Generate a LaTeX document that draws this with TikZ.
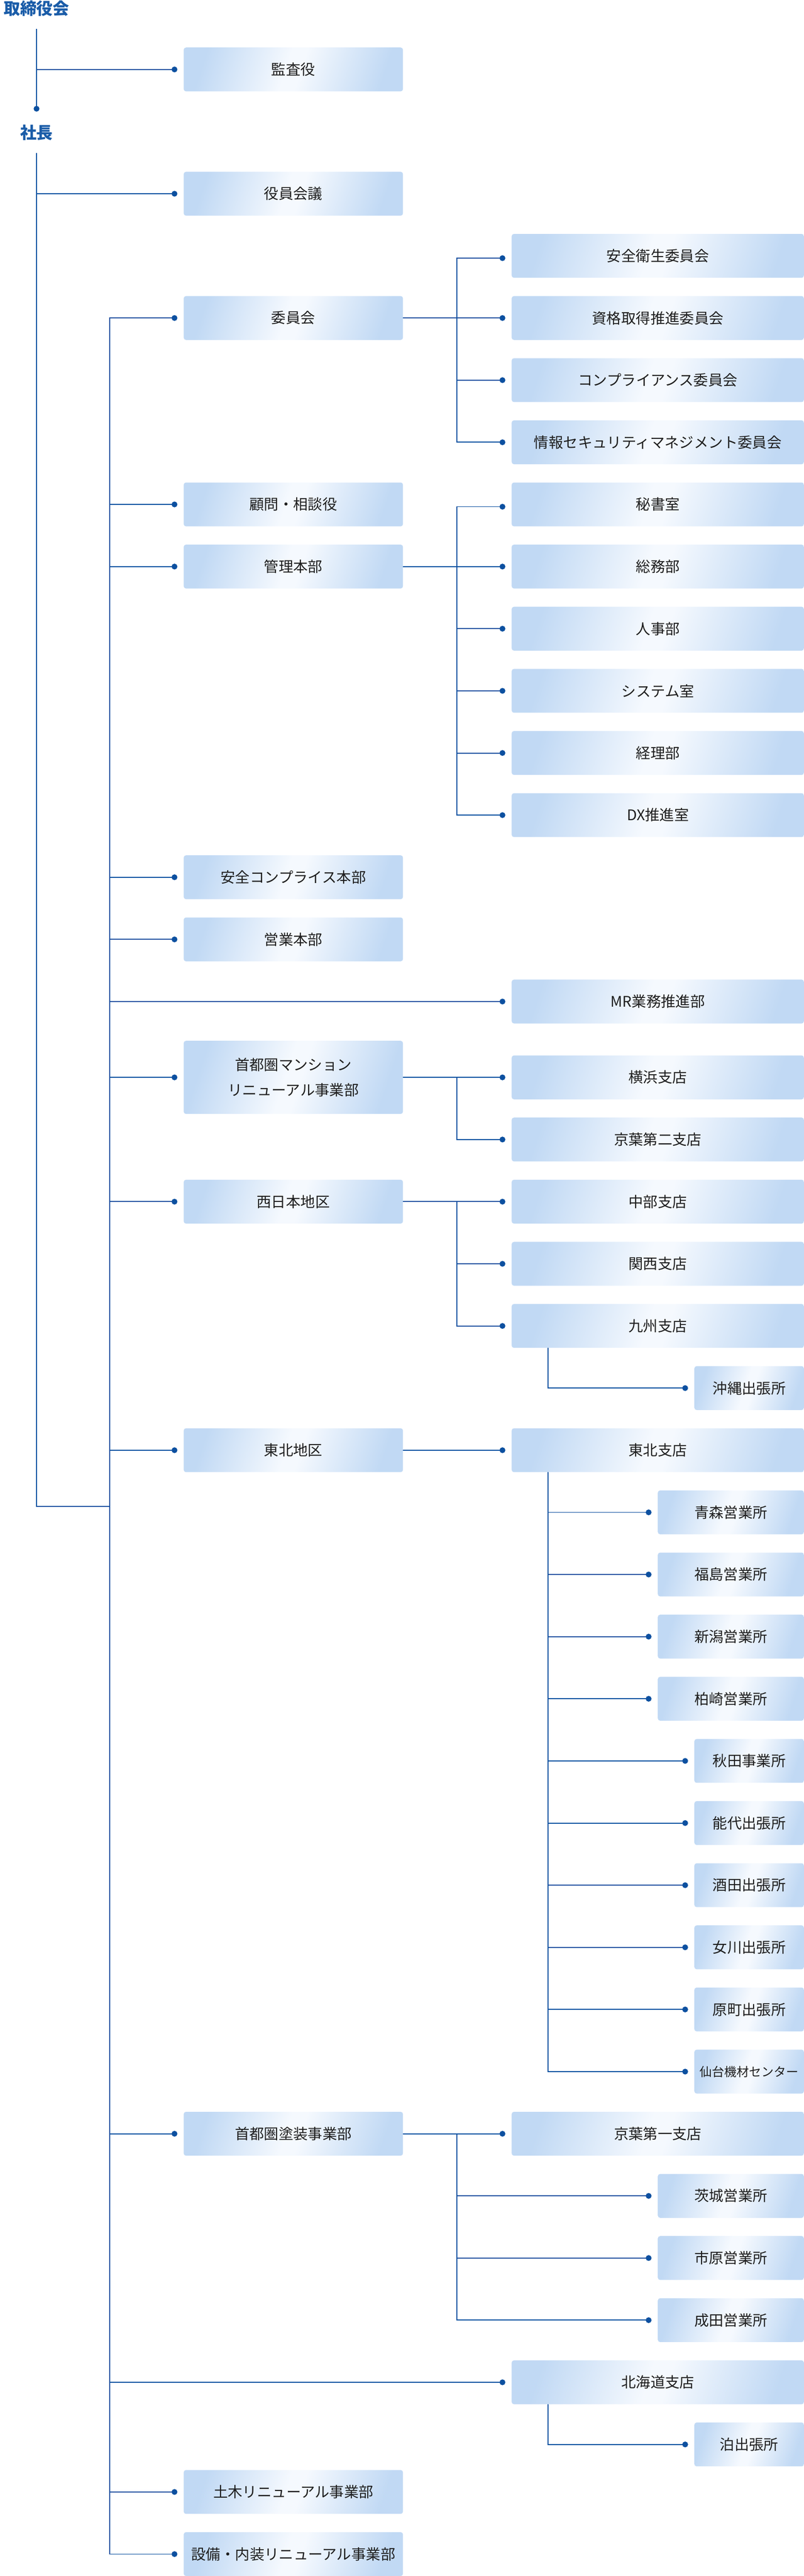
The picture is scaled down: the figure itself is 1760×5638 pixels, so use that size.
\documentclass[tikz,border=0pt]{standalone}
\usepackage{fontspec}
\setmainfont{Noto Sans CJK JP}
\usetikzlibrary{arrows.meta}
\definecolor{linec}{HTML}{0C50A0}
\definecolor{titlec}{HTML}{1A5CA8}
\definecolor{gb}{HTML}{C1D9F4}
\definecolor{gw}{HTML}{F5F9FE}
\definecolor{txt}{HTML}{1E1E1E}
\pgfdeclarelayer{bg}
\pgfsetlayers{bg,main}
\pgfdeclarehorizontalshading{boxgrad}{100bp}{color(0bp)=(gb); color(25bp)=(gb); color(48bp)=(gw); color(52bp)=(gw); color(75bp)=(gb); color(100bp)=(gb)}
\tikzset{
  title/.style={font=\fontsize{36pt}{40pt}\selectfont\bfseries, text=titlec, inner sep=0pt},
  box/.style={rounded corners=5pt, minimum height=96pt, inner sep=0pt, anchor=west,
    font=\fontsize{32pt}{40pt}\selectfont, text=txt, shading=boxgrad, shading angle=-18},
  lbox/.style={box, minimum width=480pt},
  rbox/.style={box, minimum width=640pt},
  sbox/.style={box, minimum width=320pt},
  tbox/.style={box, minimum width=240pt},
  line/.style={draw=linec, line width=2.2pt, line cap=rect, line join=miter},
  conn/.style={line, -{Circle[length=12.6pt,width=12.6pt]}},
}
\newcommand{\dotat}[1]{([xshift=-13.7pt]#1.west)}
\begin{document}
\begin{tikzpicture}[x=1pt,y=-1pt]
\useasboundingbox (0,0) rectangle (1760,5638);
% titles
\node[title] (torishimari) at (80,18) {取締役会};
\node[title] (shacho) at (80,290) {社長};
% boxes
\node[lbox] (kansa) at (402,152) {監査役};
\node[lbox] (yakuinkaigi) at (402,424) {役員会議};
\node[rbox] (anzen) at (1120,560) {安全衛生委員会};
\node[lbox] (iinkai) at (402,696) {委員会};
\node[rbox] (shikaku) at (1120,696) {資格取得推進委員会};
\node[rbox] (compl) at (1120,832) {コンプライアンス委員会};
\node[rbox] (joho) at (1120,968) {情報セキュリティマネジメント委員会};
\node[lbox] (komon) at (402,1104) {顧問・相談役};
\node[rbox] (hisho) at (1120,1104) {秘書室};
\node[lbox] (kanri) at (402,1240) {管理本部};
\node[rbox] (somu) at (1120,1240) {総務部};
\node[rbox] (jinji) at (1120,1376) {人事部};
\node[rbox] (system) at (1120,1512) {システム室};
\node[rbox] (keiri) at (1120,1648) {経理部};
\node[rbox] (dx) at (1120,1784) {DX推進室};
\node[lbox] (anzencomp) at (402,1920) {安全コンプライス本部};
\node[lbox] (eigyo) at (402,2056) {営業本部};
\node[rbox] (mr) at (1120,2192) {MR業務推進部};
\node[lbox, minimum height=160pt, align=center, font=\fontsize{32pt}{55pt}\selectfont] (mansion) at (402,2358) {首都圏マンション\\リニューアル事業部};
\node[rbox] (yokohama) at (1120,2358) {横浜支店};
\node[rbox] (keiyo2) at (1120,2494) {京葉第二支店};
\node[lbox] (nishinihon) at (402,2630) {西日本地区};
\node[rbox] (chubu) at (1120,2630) {中部支店};
\node[rbox] (kansai) at (1120,2766) {関西支店};
\node[rbox] (kyushu) at (1120,2902) {九州支店};
\node[tbox] (okinawa) at (1520,3038) {沖縄出張所};
\node[lbox] (tohokuchiku) at (402,3174) {東北地区};
\node[rbox] (tohokushiten) at (1120,3174) {東北支店};
\node[sbox] (aomori) at (1440,3310) {青森営業所};
\node[sbox] (fukushima) at (1440,3446) {福島営業所};
\node[sbox] (niigata) at (1440,3582) {新潟営業所};
\node[sbox] (kashiwazaki) at (1440,3718) {柏崎営業所};
\node[tbox] (akita) at (1520,3854) {秋田事業所};
\node[tbox] (noshiro) at (1520,3990) {能代出張所};
\node[tbox] (sakata) at (1520,4126) {酒田出張所};
\node[tbox] (onagawa) at (1520,4262) {女川出張所};
\node[tbox] (haramachi) at (1520,4398) {原町出張所};
\node[tbox, font=\fontsize{27pt}{32pt}\selectfont] (sendai) at (1520,4534) {仙台機材センター};
\node[lbox] (tosou) at (402,4670) {首都圏塗装事業部};
\node[rbox] (keiyo1) at (1120,4670) {京葉第一支店};
\node[sbox] (ibaraki) at (1440,4806) {茨城営業所};
\node[sbox] (ichihara) at (1440,4942) {市原営業所};
\node[sbox] (narita) at (1440,5078) {成田営業所};
\node[rbox] (hokkaido) at (1120,5214) {北海道支店};
\node[tbox] (tomari) at (1520,5350) {泊出張所};
\node[lbox] (doboku) at (402,5454) {土木リニューアル事業部};
\node[lbox] (setsubi) at (402,5590) {設備・内装リニューアル事業部};
% coordinates of trunks
\coordinate (A1) at (80,64);
\coordinate (A2) at (80,244.3);
\coordinate (B1) at (80,336);
\coordinate (B2) at (80,3297);
\coordinate (C0) at (240,3297);
\coordinate (D) at (1000,0);
\coordinate (E) at (1200,0);
\coordinate (anzenc) at ([yshift=-5pt]anzen.west);
\coordinate (hishoc) at ([yshift=-5pt]hisho.west);
\begin{pgfonlayer}{bg}
% board
\draw[conn] (A1) -- (A2);
\draw[conn] (kansa.west -| A1) -- \dotat{kansa};
% president trunk
\draw[line] (B1) -- (B2) -- (C0);
\draw[conn] (yakuinkaigi.west -| B1) -- \dotat{yakuinkaigi};
\draw[line] (iinkai.west -| C0) -- (setsubi.west -| C0);
\foreach \n in {iinkai,komon,kanri,anzencomp,eigyo,mr,mansion,nishinihon,tohokuchiku,tosou,hokkaido,doboku,setsubi}
  \draw[conn] (\n.west -| C0) -- \dotat{\n};
% committees
\draw[conn] (iinkai.east) -- \dotat{shikaku};
\draw[line] (anzenc -| D) -- (joho.west -| D);
\draw[conn] (anzenc -| D) -- ([xshift=-13.7pt]anzenc);
\draw[conn] (compl.west -| D) -- \dotat{compl};
\draw[conn] (joho.west -| D) -- \dotat{joho};
% administration
\draw[conn] (kanri.east) -- \dotat{somu};
\draw[line] (hishoc -| D) -- (dx.west -| D);
\draw[conn] (hishoc -| D) -- ([xshift=-13.7pt]hishoc);
\foreach \n in {jinji,system,keiri,dx}
  \draw[conn] (\n.west -| D) -- \dotat{\n};
% mansion renewal
\draw[conn] (mansion.east) -- \dotat{yokohama};
\draw[conn] (yokohama.west -| D) |- \dotat{keiyo2};
% west japan
\draw[conn] (nishinihon.east) -- \dotat{chubu};
\draw[line] (chubu.west -| D) -- (kyushu.west -| D);
\draw[conn] (kansai.west -| D) -- \dotat{kansai};
\draw[conn] (kyushu.west -| D) -- \dotat{kyushu};
\draw[conn] (kyushu.south -| E) |- \dotat{okinawa};
% tohoku
\draw[conn] (tohokuchiku.east) -- \dotat{tohokushiten};
\draw[line] (tohokushiten.south -| E) -- (sendai.west -| E);
\foreach \n in {aomori,fukushima,niigata,kashiwazaki,akita,noshiro,sakata,onagawa,haramachi,sendai}
  \draw[conn] (\n.west -| E) -- \dotat{\n};
% painting
\draw[conn] (tosou.east) -- \dotat{keiyo1};
\draw[line] (keiyo1.west -| D) -- (narita.west -| D);
\foreach \n in {ibaraki,ichihara,narita}
  \draw[conn] (\n.west -| D) -- \dotat{\n};
% hokkaido
\draw[conn] (hokkaido.south -| E) |- \dotat{tomari};
\end{pgfonlayer}
\end{tikzpicture}
\end{document}
